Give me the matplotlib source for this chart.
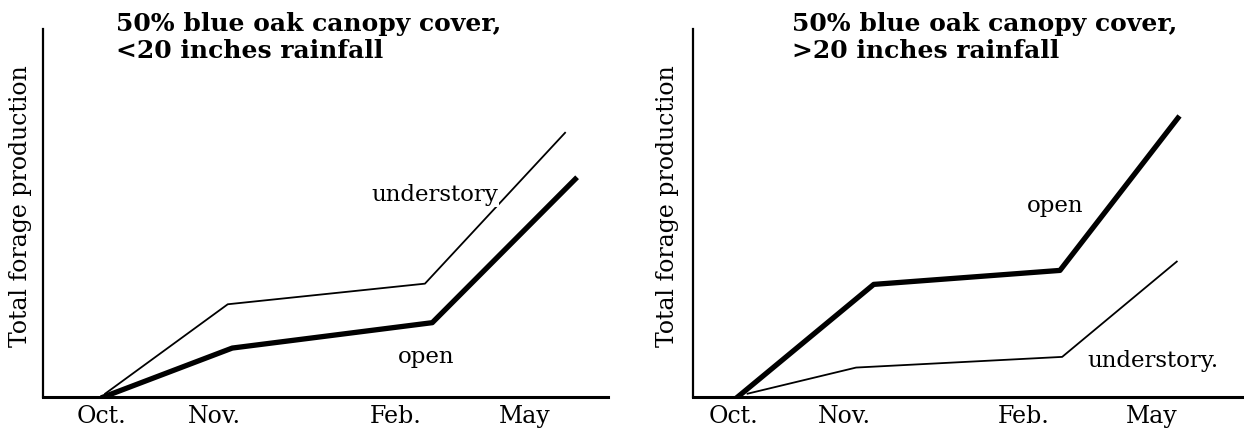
import matplotlib
matplotlib.use("Agg")
import matplotlib.pyplot as plt

# x positions are in axis units (0-100 across each x-axis), y in 0-100 of the y-axis
month_labels = ["Oct.", "Nov.", "Feb.", "May"]
left_ticks = [10.4, 30.4, 62.5, 85.3]
right_ticks = [7.3, 27.4, 60.1, 83.3]

# <20 inches rainfall
left_x_under = [11.0, 32.7, 67.6, 92.4]
left_y_under = [0.9, 25.2, 30.8, 71.8]
left_x_open = [10.7, 33.5, 68.9, 94.2]
left_y_open = [0.0, 13.3, 20.2, 59.2]

# >20 inches rainfall
right_x_open = [8.1, 32.8, 66.6, 88.0]
right_y_open = [0.0, 30.6, 34.4, 75.8]
right_x_under = [9.9, 29.6, 67.0, 87.8]
right_y_under = [0.9, 8.0, 10.9, 36.8]

titles = ["50% blue oak canopy cover,\n<20 inches rainfall",
          "50% blue oak canopy cover,\n>20 inches rainfall"]
ylabel = "Total forage production"

fig = plt.figure(figsize=(12.44, 4.33), dpi=100)
ax1 = fig.add_axes([43 / 1244, 36 / 433, 565 / 1244, 368 / 433])
ax2 = fig.add_axes([693 / 1244, 36 / 433, 551 / 1244, 368 / 433])

serif = "DejaVu Serif"

for ax, ticks, title, tx in [(ax1, left_ticks, titles[0], 0.13),
                             (ax2, right_ticks, titles[1], 0.18)]:
    ax.set_xlim(0, 100)
    ax.set_ylim(0, 100)
    ax.spines["top"].set_visible(False)
    ax.spines["right"].set_visible(False)
    ax.spines["left"].set_linewidth(1.6)
    ax.spines["bottom"].set_linewidth(2.2)
    ax.set_yticks([])
    ax.set_xticks(ticks)
    ax.set_xticklabels(month_labels, family=serif, fontsize=17)
    ax.tick_params(axis="x", length=0, pad=6)
    ax.set_ylabel(ylabel, family=serif, fontsize=17)
    ax.text(tx, 1.045, title, transform=ax.transAxes,
            family=serif, fontweight="bold", fontsize=18, va="top", ha="left",
            linespacing=1.15)

ax1.yaxis.set_label_coords(-0.02, 0.52)
ax2.yaxis.set_label_coords(-0.026, 0.52)

ax1.plot(left_x_under, left_y_under, color="black", lw=1.3, zorder=2)
ax1.plot(left_x_open, left_y_open, color="black", lw=3.8, zorder=2)
ax1.text(69.3, 54.8, "understory", family=serif, fontsize=16.5, ha="center", va="center",
         bbox=dict(facecolor="white", edgecolor="none", pad=0.5), zorder=3)
ax1.text(67.8, 11.0, "open", family=serif, fontsize=16.5, ha="center", va="center", zorder=3)

ax2.plot(right_x_open, right_y_open, color="black", lw=3.8, zorder=2)
ax2.plot(right_x_under, right_y_under, color="black", lw=1.3, zorder=2)
ax2.text(65.8, 51.9, "open", family=serif, fontsize=16.5, ha="center", va="center")
ax2.text(83.5, 9.8, "understory.", family=serif, fontsize=16.5, ha="center", va="center")

fig.savefig("out.png", dpi=100)
